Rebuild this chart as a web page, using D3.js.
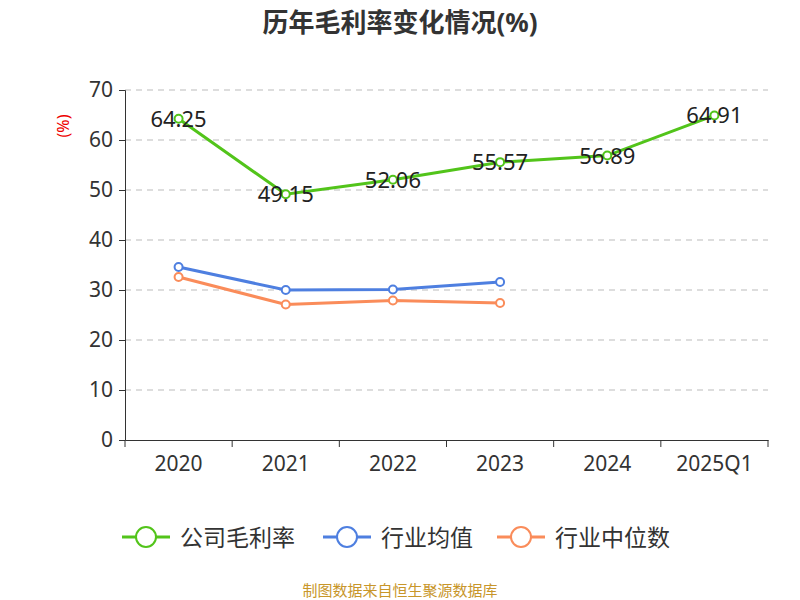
<!DOCTYPE html><html><head><meta charset="utf-8"><script src="https://cdn.jsdelivr.net/npm/d3@7"></script>
<style>body{margin:0;background:#fff}text{font-family:"Noto Sans","Noto Sans CJK SC",sans-serif}</style></head><body>
<svg id="c" width="800" height="600"></svg>
<script>
const categories=["2020","2021","2022","2023","2024","2025Q1"];
const company=[64.25,49.15,52.06,55.57,56.89,64.91];
const industryAvg=[34.6,30.0,30.1,31.6,null,null];
const industryMedian=[32.6,27.1,27.9,27.4,null,null];
const yTicks=[0,10,20,30,40,50,60,70];
const seriesNames=["公司毛利率","行业均值","行业中位数"];
const colors=["#52c41a","#4e7fe0","#fa8c5a"];
const svg=d3.select("#c");
const x=d3.scaleBand().domain(categories).range([125,768]);
const y=d3.scaleLinear().domain([0,70]).range([440,90]);
svg.append("text").attr("x",400).attr("y",32).attr("text-anchor","middle").attr("font-size",26).attr("font-weight","bold").attr("fill","#333").text("历年毛利率变化情况(%)");
svg.append("text").attr("transform","translate(69,126) rotate(-90)").attr("text-anchor","middle").attr("font-size",16).attr("fill","#e00").text("(%)");
yTicks.slice(1).forEach(t=>svg.append("line").attr("x1",125).attr("x2",768).attr("y1",y(t)).attr("y2",y(t)).attr("stroke","#bbb").attr("stroke-dasharray","6,5"));
const ya=svg.append("g").attr("transform","translate(125,0)").call(d3.axisLeft(y).tickValues(yTicks).tickSize(6).tickPadding(6));
ya.selectAll("text").attr("font-size",21).attr("fill","#333");
ya.selectAll("line,path").attr("stroke","#333");
const xa=svg.append("g").attr("transform","translate(0,440)").call(d3.axisBottom(x).tickSize(0).tickPadding(16));
xa.selectAll("text").attr("font-size",21).attr("fill","#333");
xa.select("path").attr("stroke","#333");
x.domain().concat([null]).forEach((c,i)=>{const xx=125+i*x.bandwidth();svg.append("line").attr("x1",xx).attr("x2",xx).attr("y1",440).attr("y2",447).attr("stroke","#333");});
const cx=c=>x(c)+x.bandwidth()/2;
[company,industryAvg,industryMedian].forEach((s,k)=>{
 const pts=categories.map((c,i)=>[c,s[i]]).filter(d=>d[1]!=null);
 svg.append("path").attr("d",d3.line().x(d=>cx(d[0])).y(d=>y(d[1]))(pts)).attr("fill","none").attr("stroke",colors[k]).attr("stroke-width",3);
 pts.forEach(d=>svg.append("circle").attr("cx",cx(d[0])).attr("cy",y(d[1])).attr("r",4).attr("fill","#fff").attr("stroke",colors[k]).attr("stroke-width",2));
});
categories.forEach((c,i)=>svg.append("text").attr("x",cx(c)).attr("y",y(company[i])+8).attr("text-anchor","middle").attr("font-size",22).attr("fill","#222").text(company[i].toFixed(2)));
const lx=[122,323,497];
seriesNames.forEach((n,k)=>{const g=svg.append("g").attr("transform",`translate(${lx[k]},537)`);
 g.append("line").attr("x1",0).attr("x2",48).attr("stroke",colors[k]).attr("stroke-width",3);
 g.append("circle").attr("cx",24).attr("r",10).attr("fill","#fff").attr("stroke",colors[k]).attr("stroke-width",2);
 g.append("text").attr("x",58).attr("y",9).attr("font-size",23).attr("fill","#333").text(n);});
svg.append("text").attr("x",400).attr("y",596).attr("text-anchor","middle").attr("font-size",15).attr("fill","#c8962a").text("制图数据来自恒生聚源数据库");
</script></body></html>
